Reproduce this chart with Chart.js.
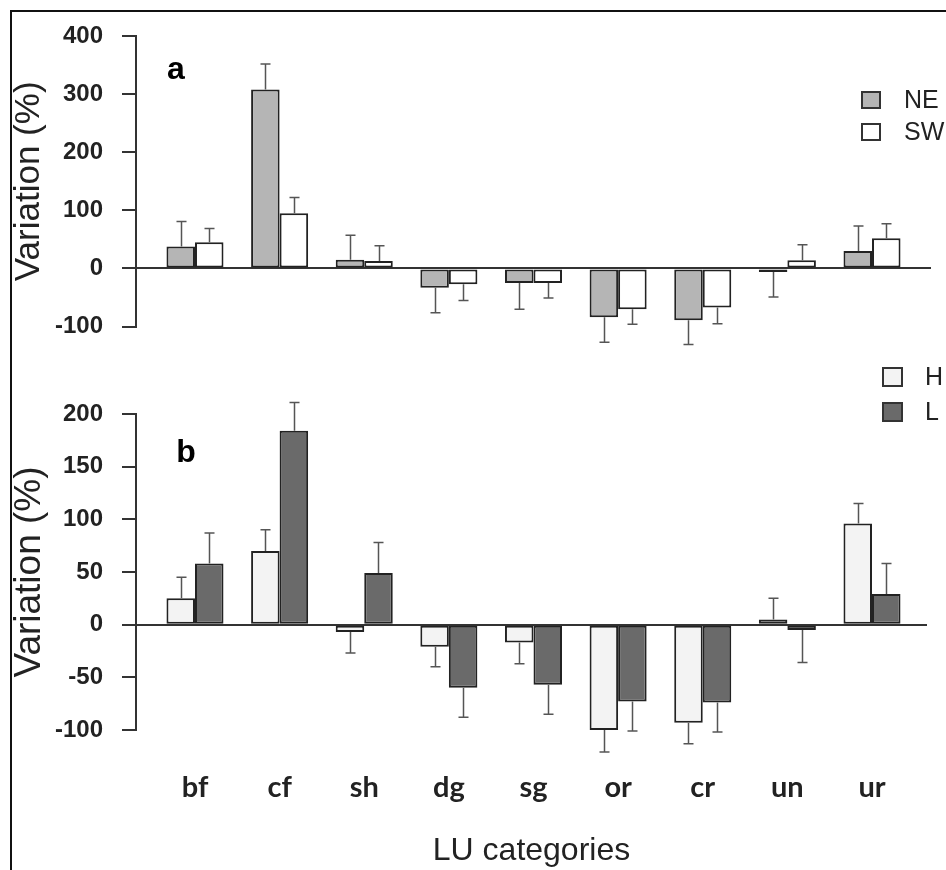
<!DOCTYPE html>
<html>
<head>
<meta charset="utf-8">
<script src="https://cdn.jsdelivr.net/npm/chart.js@4.4.0/dist/chart.umd.min.js"></script>
<style>
  html, body { margin: 0; padding: 0; background: #ffffff; }
  #wrap { position: relative; width: 946px; height: 870px; overflow: hidden; background: #fff; }
  #frame { position: absolute; left: 10px; top: 10px; width: 940px; height: 870px;
           border-left: 2px solid #111; border-top: 2px solid #111; }
  canvas { position: absolute; left: 0; }
  #cA { top: 0; }
  #cB { top: 360px; }
</style>
</head>
<body>
<div id="wrap">
  <div id="frame"></div>
  <canvas id="cA" width="946" height="360"></canvas>
  <canvas id="cB" width="946" height="510"></canvas>
</div>
<script>
// ---------------- data ----------------
const categories = ['bf', 'cf', 'sh', 'dg', 'sg', 'or', 'cr', 'un', 'ur'];

// panel a
const neValues = [38, 308, 15, -33, -25, -84, -89, -6, 30];
const neErrors = [43, 44, 42, 43, 45, 43, 42, 43, 43];
const swValues = [45, 95, 13, -27, -25, -70, -67, 14, 52];
const swErrors = [24, 27, 26, 28, 26, 26, 28, 27, 25];
const ticksA = [-100, 0, 100, 200, 300, 400];

// panel b
const hValues = [25, 70, -7, -21, -17, -100, -93, 5, 96];
const hErrors = [20, 20, 20, 19, 20, 21, 20, 20, 19];
const lValues = [58, 184, 49, -60, -57, -73, -74, -5, 29];
const lErrors = [29, 27, 29, 28, 28, 28, 28, 31, 29];
const ticksB = [-100, -50, 0, 50, 100, 150, 200];

const yTitle = 'Variation (%)';
const xTitle = 'LU categories';

// ---------------- helpers ----------------
const toPoints = vals => vals.map((v, i) => ({ x: i + 1, y: v }));
const INK = '#222';

const errorBars = {
  id: 'errorBars',
  afterDatasetsDraw(chart) {
    const ctx = chart.ctx;
    const ys = chart.scales.y;
    ctx.save();
    ctx.strokeStyle = '#555';
    ctx.lineWidth = 1.5;
    chart.data.datasets.forEach((ds, di) => {
      const meta = chart.getDatasetMeta(di);
      meta.data.forEach((bar, i) => {
        const v = ds.data[i].y;
        const e = ds.errors[i];
        const dir = v < 0 ? -1 : 1;
        const yEnd = ys.getPixelForValue(v + dir * e);
        const x = Math.round(bar.x) + 0.5;
        ctx.beginPath();
        ctx.moveTo(x, bar.y);
        ctx.lineTo(x, yEnd);
        ctx.moveTo(x - 5, yEnd);
        ctx.lineTo(x + 5, yEnd);
        ctx.stroke();
      });
    });
    ctx.restore();
  }
};

const boxLegend = {
  id: 'boxLegend',
  afterDraw(chart, args, o) {
    const ctx = chart.ctx;
    ctx.save();
    ctx.font = o.font;
    ctx.textBaseline = 'middle';
    ctx.textAlign = 'left';
    chart.data.datasets.forEach((ds, i) => {
      const top = o.y + i * o.gap;
      ctx.fillStyle = ds.backgroundColor;
      ctx.fillRect(o.x, top, o.boxW, o.boxH);
      ctx.strokeStyle = '#333';
      ctx.lineWidth = 2;
      ctx.strokeRect(o.x, top, o.boxW, o.boxH);
      ctx.fillStyle = INK;
      ctx.fillText(ds.label, o.textX, top + o.boxH / 2 + 1);
    });
    ctx.restore();
  }
};

const panelLabel = {
  id: 'panelLabel',
  afterDraw(chart, args, o) {
    const ctx = chart.ctx;
    ctx.save();
    ctx.font = o.font;
    ctx.fillStyle = '#000';
    ctx.textAlign = 'center';
    ctx.textBaseline = 'middle';
    ctx.fillText(o.text, o.x, o.y);
    ctx.restore();
  }
};

function yScale(ticks, titleSize) {
  return {
    type: 'linear',
    min: Math.min(...ticks),
    max: Math.max(...ticks),
    afterBuildTicks: axis => { axis.ticks = ticks.map(v => ({ value: v })); },
    afterFit: axis => { axis.width = 136; },
    border: { display: true, color: '#333', width: 2 },
    grid: {
      drawOnChartArea: true,
      color: c => (c.tick && c.tick.value === 0) ? '#333' : 'rgba(0,0,0,0)',
      lineWidth: 2,
      drawTicks: true,
      tickLength: 14,
      tickColor: '#333',
      tickWidth: 2
    },
    ticks: {
      color: INK,
      padding: 19,
      font: { family: '"Liberation Sans", Arial, sans-serif', size: 24, weight: 'bold' }
    },
    title: {
      display: true,
      text: yTitle,
      color: INK,
      padding: { top: 8, bottom: 0 },
      font: { family: '"Liberation Sans", Arial, sans-serif', size: titleSize, weight: 'normal' }
    }
  };
}

function barSet(label, vals, errs, fill) {
  return {
    label: label,
    data: toPoints(vals),
    errors: errs,
    backgroundColor: fill,
    borderColor: '#222',
    borderWidth: 2,
    borderSkipped: false,
    categoryPercentage: 0.674,
    barPercentage: 1.0
  };
}

const catTicks = axis => { axis.ticks = categories.map((c, i) => ({ value: i + 1 })); };

// ---------------- panel a ----------------
new Chart(document.getElementById('cA'), {
  type: 'bar',
  data: {
    datasets: [
      barSet('NE', neValues, neErrors, '#b5b5b5'),
      barSet('SW', swValues, swErrors, '#ffffff')
    ]
  },
  options: {
    responsive: false,
    animation: false,
    layout: { padding: { top: 36, bottom: 33, left: 0, right: 15 } },
    scales: {
      x: {
        type: 'linear',
        offset: false,
        bounds: 'data',
        min: 0.303,
        max: 9.697,
        display: false,
        grid: { offset: false },
        afterBuildTicks: catTicks
      },
      y: yScale(ticksA, 35)
    },
    plugins: {
      legend: { display: false },
      tooltip: { enabled: false },
      boxLegend: { x: 862, y: 92, boxW: 18, boxH: 16, gap: 32, textX: 904,
                   font: '25px "Liberation Sans", Arial, sans-serif' },
      panelLabel: { text: 'a', x: 176, y: 70, font: 'bold 32px "Liberation Sans", Arial, sans-serif' }
    }
  },
  plugins: [errorBars, boxLegend, panelLabel]
});

// ---------------- panel b ----------------
new Chart(document.getElementById('cB'), {
  type: 'bar',
  data: {
    datasets: [
      barSet('H', hValues, hErrors, '#f3f3f3'),
      barSet('L', lValues, lErrors, '#6a6a6a')
    ]
  },
  options: {
    responsive: false,
    animation: false,
    layout: { padding: { top: 54, bottom: 0, left: 0, right: 19 } },
    scales: {
      x: {
        type: 'linear',
        offset: false,
        bounds: 'data',
        min: 0.303,
        max: 9.65,
        afterBuildTicks: catTicks,
        afterFit: axis => { axis.height = 140; },
        border: { display: false },
        grid: { display: false, drawTicks: false, offset: false },
        ticks: {
          color: INK,
          padding: 40,
          autoSkip: false,
          maxRotation: 0,
          callback: v => categories[v - 1],
          font: { family: 'Lato, "Open Sans", sans-serif', size: 29, weight: 'bold' }
        },
        title: {
          display: true,
          text: xTitle,
          color: INK,
          padding: { top: 0, bottom: 0 },
          font: { family: '"Liberation Sans", Arial, sans-serif', size: 32, weight: 'normal' }
        }
      },
      y: yScale(ticksB, 37)
    },
    plugins: {
      legend: { display: false },
      tooltip: { enabled: false },
      boxLegend: { x: 883, y: 8, boxW: 19, boxH: 18, gap: 35, textX: 925,
                   font: '25px "Liberation Sans", Arial, sans-serif' },
      panelLabel: { text: 'b', x: 186, y: 93, font: 'bold 32px "Liberation Sans", Arial, sans-serif' }
    }
  },
  plugins: [errorBars, boxLegend, panelLabel]
});
</script>
</body>
</html>
